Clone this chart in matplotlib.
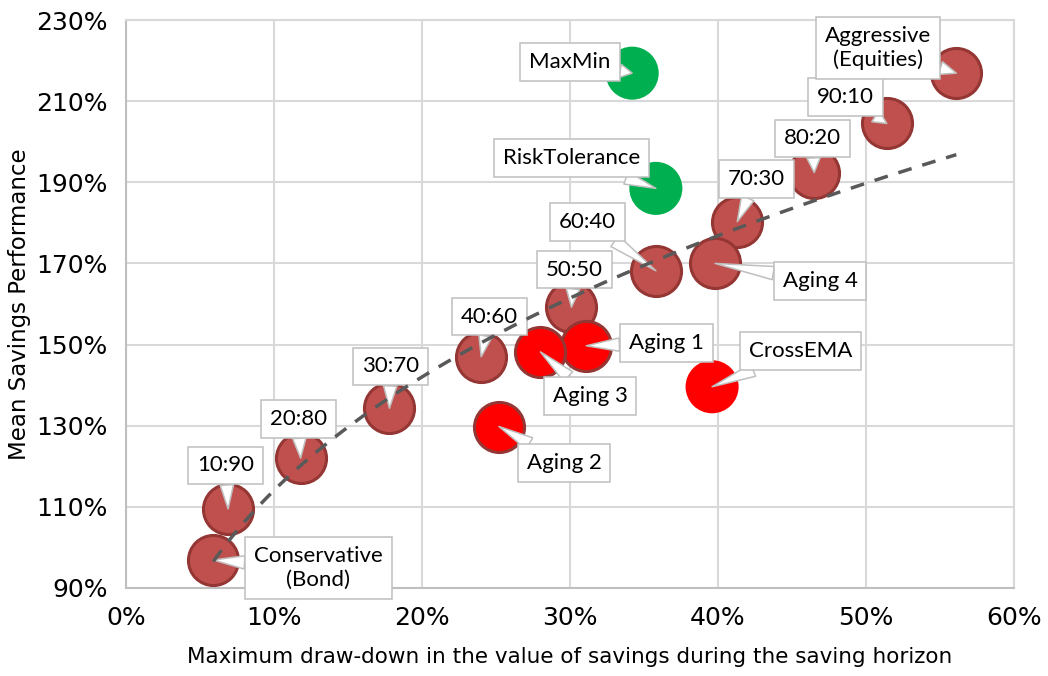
import numpy as np
import matplotlib
matplotlib.use("Agg")
import matplotlib.pyplot as plt
from matplotlib.ticker import FuncFormatter

# data (values in %)
names = ["Conservative\n(Bond)", "10:90", "20:80", "30:70", "40:60", "50:50",
         "60:40", "70:30", "80:20", "90:10", "Aggressive\n(Equities)",
         "MaxMin", "RiskTolerance", "Aging 4", "Aging 1", "Aging 3", "Aging 2", "CrossEMA"]
drawdown = [5.9, 6.9, 11.8, 17.8, 24.0, 30.1, 35.8, 41.3, 46.5, 51.4, 56.1,
            34.2, 35.8, 39.8, 31.1, 28.0, 25.2, 39.6]
performance = [96.9, 109.5, 122.0, 134.3, 147.0, 159.2, 168.2, 180.3, 192.4, 204.5, 216.9,
               216.9, 188.5, 170.0, 149.7, 148.2, 129.8, 139.6]
kind = ["alloc"] * 11 + ["green", "green", "alloc", "aging", "aging", "aging", "cross"]

# label placement (offset of the callout box from its point, in axis units)
label_dx = [7.1, -0.15, -0.17, 0.1, 0.55, 0.2, -4.6, 1.3, -0.1, -2.8, -5.3,
            -4.2, -5.7, 7.1, 5.4, 3.35, 4.4, 6.0]
label_dy = [-2.0, 10.7, 9.7, 10.3, 9.9, 9.3, 12.1, 10.6, 8.4, 6.6, 6.2,
            2.8, 7.4, -4.3, 0.7, -10.9, -9.0, 8.9]

styles = {
    "alloc": dict(fc="#C0504D", ec="#943634", lw=2.2, s=1300),
    "aging": dict(fc="#FF0000", ec="#943634", lw=2.2, s=1300),
    "cross": dict(fc="#FF0000", ec="none", lw=0, s=1460),
    "green": dict(fc="#00B050", ec="none", lw=0, s=1460),
}

fig = plt.figure(figsize=(10.48, 6.76), dpi=100)
ax = fig.add_axes([0.1202, 0.1302, 0.8474, 0.8402])

for k, st in styles.items():
    idx = [i for i, kk in enumerate(kind) if kk == k]
    ax.scatter([drawdown[i] for i in idx], [performance[i] for i in idx],
               s=st["s"], facecolor=st["fc"], edgecolor=st["ec"], linewidth=st["lw"], zorder=3)

for i, name in enumerate(names):
    ax.annotate(name, xy=(drawdown[i], performance[i]),
                xytext=(drawdown[i] + label_dx[i], performance[i] + label_dy[i]),
                ha="center", va="center", fontsize=16, family=["Lato", "DejaVu Sans"],
                linespacing=1.25, zorder=5,
                bbox=dict(boxstyle="square,pad=0.4", fc="white", ec="#BFBFBF", lw=1.1),
                arrowprops=dict(arrowstyle="wedge,tail_width=0.6", fc="white", ec="#BFBFBF",
                                lw=1.1, shrinkA=0, shrinkB=0))

# power trendline fitted to all points
xa = np.array(drawdown)
ya = np.array(performance)
b, a = np.polyfit(np.log(xa), np.log(ya), 1)
xt = np.linspace(xa.min(), xa.max(), 200)
ax.plot(xt, np.exp(a) * xt ** b, color="#595959", lw=2.5, dashes=(4, 3.2), zorder=6)

ax.set_xlim(0, 60)
ax.set_ylim(90, 230)
ax.set_xticks(np.arange(0, 61, 10))
ax.set_yticks(np.arange(90, 231, 20))
ax.xaxis.set_major_formatter(FuncFormatter(lambda v, p: f"{v:.0f}%"))
ax.yaxis.set_major_formatter(FuncFormatter(lambda v, p: f"{v:.0f}%"))
ax.tick_params(length=0, labelsize=18, pad=13)
ax.grid(True, color="#D9D9D9", lw=1.5)
ax.set_axisbelow(True)
for sp in ax.spines.values():
    sp.set_color("#D9D9D9")
    sp.set_linewidth(1.5)
ax.spines["bottom"].set_color("#BFBFBF")
ax.spines["left"].set_color("#BFBFBF")

ax.set_xlabel("Maximum draw-down in the value of savings during the saving horizon",
              fontsize=15.5, labelpad=12)
ax.set_ylabel("Mean Savings Performance", fontsize=16.5, labelpad=4)

fig.savefig("out.png", dpi=100)
